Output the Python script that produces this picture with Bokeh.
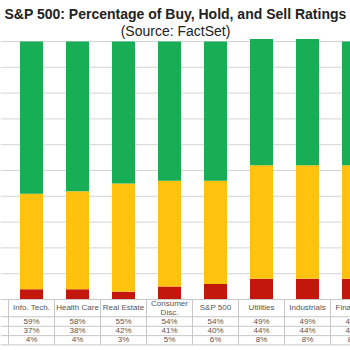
from bokeh.plotting import figure
from bokeh.models import Range1d, ColumnDataSource
from bokeh.core.properties import value
from bokeh.embed import file_html
from bokeh.resources import INLINE

categories = ["Info. Tech.", "Health Care", "Real Estate", "Consumer\nDisc.", "S&P 500",
              "Utilities", "Industrials", "Financials"]
buy = [59, 58, 55, 54, 54, 49, 49, 48]
hold = [37, 38, 42, 41, 40, 44, 44, 44]
sell = [4, 4, 3, 5, 6, 8, 8, 8]
grid_ticks = [10, 20, 30, 40, 50, 60, 70, 80, 90, 100]

GREEN = "#17ae55"
YELLOW = "#ffc20e"
RED = "#c3170b"
TXT = "#555555"
LINE = "#c8c8c8"

n = len(categories)
xs = list(range(n))
sell_top = [s for s in sell]
hold_top = [s + h for s, h in zip(sell, hold)]
buy_top = [s + h + b for s, h, b in zip(sell, hold, buy)]

p = figure(width=350, height=350, output_backend="svg", toolbar_location=None,
           x_range=Range1d(-0.674, -0.674 + 350 / 46), y_range=Range1d(-19.77, 115.89),
           min_border=0)
p.axis.visible = False
p.grid.visible = False
p.outline_line_color = None
p.background_fill_color = "white"
p.border_fill_color = "white"

x0 = -0.674
x1 = -0.674 + 350 / 46
# gridlines
p.segment(x0=[x0] * len(grid_ticks), x1=[x1] * len(grid_ticks), y0=grid_ticks, y1=grid_ticks,
          line_color="#d4d4d4", line_width=1)

src = ColumnDataSource(dict(x=xs, s0=[0] * n, s1=sell_top, h1=hold_top, b1=buy_top))
p.vbar(x="x", width=0.5, bottom="s0", top="s1", source=src, fill_color=RED, line_color=None)
p.vbar(x="x", width=0.5, bottom="s1", top="h1", source=src, fill_color=YELLOW, line_color=None)
p.vbar(x="x", width=0.5, bottom="h1", top="b1", source=src, fill_color=GREEN, line_color=None)

# table lines
row_lines = [0, -6.7, -10.4, -14.0, -17.6]
p.segment(x0=[x0] * len(row_lines), x1=[x1] * len(row_lines), y0=row_lines, y1=row_lines,
          line_color=LINE, line_width=1)
col_edges = [i - 0.5 for i in range(n + 1)]
p.segment(x0=col_edges, x1=col_edges, y0=[0] * len(col_edges), y1=[-17.6] * len(col_edges),
          line_color=LINE, line_width=1)

font = value("Liberation Sans")
p.text(x=xs, y=[-3.2] * n, text=categories, text_align="center", text_baseline="middle",
       text_font=font, text_font_size="8px", text_color=TXT, text_line_height=1.0)
rows = [(buy, -8.5), (hold, -12.2), (sell, -15.7)]
for vals, yy in rows:
    p.text(x=xs, y=[yy] * n, text=[f"{v}%" for v in vals], text_align="center",
           text_baseline="middle", text_font=font, text_font_size="8px", text_color=TXT)

# title
xc = (x0 + x1) / 2
p.text(x=[xc], y=[115.89 - 14 / 2.58], text=["S&P 500: Percentage of Buy, Hold, and Sell Ratings"],
       text_align="center", text_baseline="middle", text_font=font, text_font_size="14px",
       text_font_style="bold", text_color="#222222")
p.text(x=[xc], y=[115.89 - 31 / 2.58], text=["(Source: FactSet)"],
       text_align="center", text_baseline="middle", text_font=font, text_font_size="14px",
       text_color="#222222")

open("out.html", "w").write(file_html(p, INLINE))
